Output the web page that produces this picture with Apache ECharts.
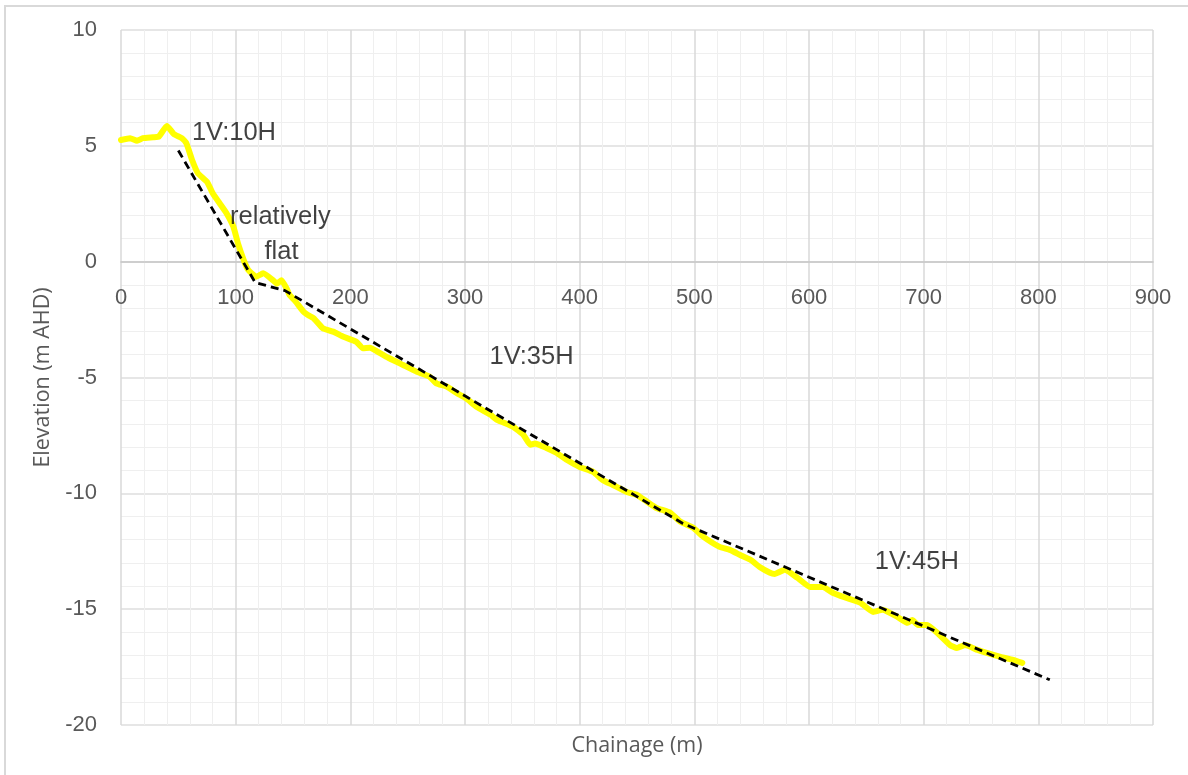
<!DOCTYPE html>
<html>
<head>
<meta charset="utf-8">
<script src="https://cdn.jsdelivr.net/npm/echarts@6/dist/echarts.min.js"></script>
<style>
  html, body { margin: 0; padding: 0; background: #ffffff; }
  #chart { width: 1188px; height: 775px; }
</style>
</head>
<body>
<div id="chart"></div>
<script>
// Surveyed bed profile: chainage (m) and elevation (m AHD)
const chainage = [
  0, 8, 14, 19, 28, 33, 40, 46, 53, 57, 62, 67, 75, 80, 86, 92, 98, 102, 107, 111,
  118, 124, 133, 136, 140, 145, 147, 152, 159, 163, 168, 176, 185, 194, 205, 211, 217,
  226, 234, 246, 258, 269, 275, 284, 293, 301, 310, 322, 328, 342, 351, 357, 361, 371,
  380, 389, 400, 412, 420, 429, 441, 450, 459, 467, 479, 488, 499, 508, 522, 531, 540,
  549, 557, 566, 570, 579, 590, 601, 612, 621, 633, 645, 656, 664, 677, 686, 690, 695,
  703, 712, 723, 729, 736, 747, 755, 767, 778, 786
];
const elevation = [
  5.25, 5.33, 5.22, 5.33, 5.37, 5.40, 5.86, 5.51, 5.33, 5.11, 4.39, 3.82, 3.45, 2.95, 2.52, 2.09, 1.51, 0.79, 0.07, -0.36,
  -0.65, -0.50, -0.82, -0.95, -0.80, -1.22, -1.44, -1.70, -2.15, -2.30, -2.44, -2.87, -3.02, -3.24, -3.45, -3.74, -3.72,
  -3.95, -4.17, -4.46, -4.75, -4.96, -5.25, -5.39, -5.68, -5.90, -6.26, -6.60, -6.83, -7.13, -7.48, -7.90, -7.85, -8.04,
  -8.26, -8.56, -8.86, -9.08, -9.42, -9.64, -9.94, -10.07, -10.37, -10.63, -10.84, -11.23, -11.49, -11.88, -12.31, -12.44, -12.66,
  -12.87, -13.18, -13.43, -13.48, -13.30, -13.65, -14.04, -14.04, -14.30, -14.52, -14.73, -15.12, -15.03, -15.33, -15.59, -15.47, -15.68,
  -15.68, -16.03, -16.55, -16.68, -16.55, -16.76, -16.89, -17.06, -17.19, -17.32
];

// Idealised slope profile (vertices of the dashed line)
const slopeChainage = [50, 117, 143, 490, 810];
const slopeElevation = [4.80, -0.90, -1.25, -11.30, -18.05];

// Slope annotations, anchored at chainage / elevation
const noteText = ['1V:10H', 'relatively', 'flat', '1V:35H', '1V:45H'];
const noteChainage = [98.5, 139, 140, 358, 694];
const noteElevation = [5.55, 1.95, 0.42, -4.1, -12.95];

// Axis ranges
const X_MIN = 0, X_MAX = 900, X_STEP = 100;
const Y_MIN = -20, Y_MAX = 10, Y_STEP = 5;

const pairs = (xs, ys) => xs.map((x, i) => [x, ys[i]]);

const W = 1188, H = 775;
const GRID = { left: 121, right: 35, top: 30, bottom: 50 };
const plotH = H - GRID.top - GRID.bottom;
// chainage tick labels sit along the zero-elevation line
const zeroOffset = -plotH * (0 - Y_MIN) / (Y_MAX - Y_MIN);

const chart = echarts.init(document.getElementById('chart'), null, { renderer: 'canvas' });

const tickFont = { color: '#595959', fontSize: 22, fontFamily: 'Liberation Sans, Arial, sans-serif' };

chart.setOption({
  animation: false,
  backgroundColor: '#ffffff',
  graphic: [{
    type: 'rect',
    shape: { x: 5, y: 6, width: 1200, height: 800 },
    style: { fill: 'none', stroke: '#d9d9d9', lineWidth: 2 },
    silent: true, z: -10
  }, {
    // horizontal axis title, centred under the plot area
    type: 'text',
    x: GRID.left + (W - GRID.left - GRID.right) / 2,
    y: H - GRID.bottom + 21,
    style: {
      text: 'Chainage (m)', align: 'center', verticalAlign: 'middle',
      fill: '#595959', fontSize: 21.5, fontFamily: 'Open Sans, sans-serif'
    },
    silent: true
  }],
  grid: Object.assign({ containLabel: false }, GRID),
  xAxis: [{
    // grid lines and the zero line
    type: 'value', min: X_MIN, max: X_MAX, interval: X_STEP,
    axisLine: { show: true, onZero: true, lineStyle: { color: '#c6c6c6', width: 1.5 } },
    axisTick: { show: false },
    axisLabel: { show: false },
    splitLine: { show: true, lineStyle: { color: '#d9d9d9', width: 1.5 } },
    minorTick: { show: false, splitNumber: 5 },
    minorSplitLine: { show: true, lineStyle: { color: '#efefef', width: 1 } }
  }, {
    // chainage tick labels
    type: 'value', min: X_MIN, max: X_MAX, interval: X_STEP,
    position: 'bottom', offset: zeroOffset,
    axisLine: { show: false, onZero: false },
    axisTick: { show: false },
    axisLabel: Object.assign({ margin: 25 }, tickFont),
    splitLine: { show: false }
  }],
  yAxis: {
    type: 'value', min: Y_MIN, max: Y_MAX, interval: Y_STEP,
    name: 'Elevation (m AHD)', nameLocation: 'middle', nameGap: 67,
    nameTextStyle: { color: '#595959', fontSize: 21.5, fontFamily: 'Open Sans, sans-serif' },
    axisLine: { show: false },
    axisTick: { show: false },
    axisLabel: Object.assign({ margin: 24 }, tickFont),
    splitLine: { show: true, lineStyle: { color: '#dedede', width: 1.5 } },
    minorTick: { show: false, splitNumber: 5 },
    minorSplitLine: { show: true, lineStyle: { color: '#efefef', width: 1 } }
  },
  series: [{
    name: 'Bed profile', type: 'line', xAxisIndex: 0,
    data: pairs(chainage, elevation),
    showSymbol: false, smooth: 0.15,
    lineStyle: { color: '#ffff00', width: 6, join: 'round', cap: 'round' },
    z: 3
  }, {
    name: 'Design slope', type: 'line', xAxisIndex: 0,
    data: pairs(slopeChainage, slopeElevation),
    showSymbol: false,
    lineStyle: { color: '#000000', width: 2.8, type: [8, 5] },
    z: 4
  }, {
    name: 'Notes', type: 'scatter', xAxisIndex: 0,
    data: noteText.map((t, i) => ({ name: t, value: [noteChainage[i], noteElevation[i]] })),
    symbolSize: 0,
    label: {
      show: true, position: 'inside', formatter: p => p.name,
      color: '#111111', fontSize: 25.5, fontFamily: 'Liberation Sans, Arial, sans-serif'
    },
    silent: true, z: 5
  }]
});
</script>
</body>
</html>
